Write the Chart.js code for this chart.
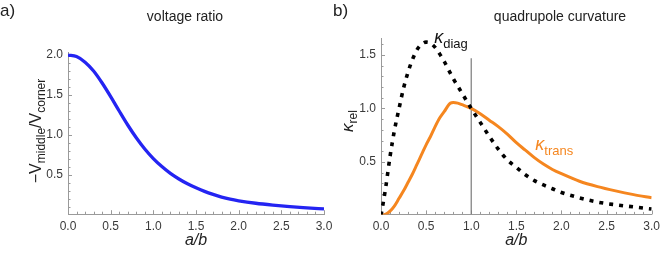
<!DOCTYPE html>
<html><head><meta charset="utf-8">
<script src="https://cdn.jsdelivr.net/npm/chart.js@4"></script>
<style>
html,body{margin:0;padding:0;background:#fff;overflow:hidden}
#wrap{position:relative;width:665px;height:253px}
canvas{position:absolute;left:0;top:0}
</style></head><body>
<div id="wrap"><canvas id="ca" width="665" height="253"></canvas><canvas id="cb" width="665" height="253"></canvas></div>
<script>
// ---- data ----
const xTickValues = [0, 0.5, 1, 1.5, 2, 2.5, 3];
const xTickLabels = ['0.0', '0.5', '1.0', '1.5', '2.0', '2.5', '3.0'];
const yTickValuesA = [0.5, 1.0, 1.5, 2.0];
const yTickLabelsA = ['0.5', '1.0', '1.5', '2.0'];
const yTickValuesB = [0.5, 1.0, 1.5];
const yTickLabelsB = ['0.5', '1.0', '1.5'];

const ratioX = [0,0.1,0.2,0.3,0.4,0.5,0.6,0.7,0.8,0.9,1.0,1.1,1.2,1.3,1.4,1.5,1.6,1.7,1.8,1.9,2.0,2.2,2.4,2.6,2.8,3.0];
const ratioY = [2.0,1.98,1.91,1.80,1.65,1.48,1.30,1.125,0.965,0.825,0.705,0.605,0.52,0.45,0.39,0.34,0.295,0.257,0.224,0.198,0.178,0.147,0.124,0.105,0.09,0.076];

const diagX = [0,0.05,0.1,0.15,0.2,0.25,0.3,0.35,0.4,0.45,0.5,0.55,0.6,0.65,0.7,0.8,0.9,1.0,1.1,1.2,1.3,1.4,1.5,1.6,1.7,1.8,1.9,2.0,2.2,2.4,2.6,2.8,3.0];
const diagY = [0,0.25,0.55,0.80,1.0,1.19,1.34,1.46,1.55,1.60,1.62,1.61,1.57,1.51,1.44,1.28,1.14,1.0,0.87,0.74,0.62,0.52,0.45,0.38,0.325,0.285,0.25,0.215,0.165,0.125,0.10,0.08,0.06];

const transX = [0,0.05,0.1,0.15,0.2,0.25,0.3,0.35,0.4,0.45,0.5,0.55,0.6,0.65,0.7,0.77,0.8,0.85,0.9,1.0,1.1,1.2,1.3,1.4,1.5,1.6,1.7,1.8,1.9,2.0,2.2,2.4,2.6,2.8,3.0];
const transY = [0,0.01,0.04,0.09,0.16,0.23,0.31,0.39,0.48,0.57,0.66,0.74,0.83,0.91,0.97,1.05,1.055,1.05,1.035,1.0,0.95,0.89,0.83,0.76,0.68,0.61,0.54,0.48,0.43,0.39,0.32,0.27,0.23,0.195,0.165];

const markerX = [1, 1];
const markerY = [0.01, 1.47];

// ---- helpers ----
const FAM = "'Liberation Sans', Arial, sans-serif";
const AXIS = '#9a9a9a';
const LBL = '#3a3a3a';
const pts = (xs, ys) => xs.map((x, i) => ({x, y: ys[i]}));

function drawRich(ctx, x, y, segs, rot, align) {
  ctx.save();
  ctx.translate(x, y);
  if (rot) ctx.rotate(rot);
  let w = 0;
  segs.forEach(s => { ctx.font = s.font; w += ctx.measureText(s.text).width; });
  let cx = align === 'left' ? 0 : -w / 2;
  ctx.textBaseline = 'alphabetic';
  ctx.textAlign = 'left';
  segs.forEach(s => {
    ctx.font = s.font;
    ctx.fillStyle = s.color;
    ctx.fillText(s.text, cx, s.dy || 0);
    cx += ctx.measureText(s.text).width;
  });
  ctx.restore();
}

const decor = {
  id: 'decor',
  beforeDatasetsDraw(chart, args, o) {
    const ctx = chart.ctx, xs = chart.scales.x, ys = chart.scales.y;
    const bottom = chart.chartArea.bottom, left = chart.chartArea.left;
    ctx.save();
    ctx.strokeStyle = AXIS; ctx.lineWidth = 1;
    ctx.beginPath();
    for (let i = 1; i <= 30; i++) {
      const px = Math.round(xs.getPixelForValue(i / 10)) + 0.5;
      const len = i % 5 === 0 ? 4 : 2.5;
      ctx.moveTo(px, bottom); ctx.lineTo(px, bottom - len);
    }
    for (let i = 1; i <= o.yMinorMax; i++) {
      const py = Math.round(ys.getPixelForValue(i / 10)) + 0.5;
      const len = i % 5 === 0 ? 4 : 2.5;
      ctx.moveTo(left, py); ctx.lineTo(left + len, py);
    }
    ctx.stroke();
    ctx.restore();
  },
  afterDraw(chart, args, o) {
    const ctx = chart.ctx, xs = chart.scales.x, ys = chart.scales.y;
    const ca = chart.chartArea;
    drawRich(ctx, o.letterX, 16, [{text: o.letter, font: '17px ' + FAM, color: '#222'}], 0, 'left');
    drawRich(ctx, o.titleX, 21, [{text: o.title, font: '14px ' + FAM, color: '#222'}], 0, 'center');
    drawRich(ctx, (ca.left + ca.right) / 2, 245, [{text: 'a/b', font: 'italic 16px ' + FAM, color: '#222'}], 0, 'center');
    drawRich(ctx, o.yTitleX, o.yTitleY, o.yTitle, -Math.PI / 2, 'center');
    (o.notes || []).forEach(n => {
      drawRich(ctx, xs.getPixelForValue(n.x), ys.getPixelForValue(n.y), n.segs, 0, 'left');
    });
  }
};

function axisOpts(min, max, vals, labels, isX, pad, size) {
  return {
    type: 'linear', min, max,
    afterFit: s => { if (isX) s.height = size; else s.width = size; },
    afterBuildTicks: s => { s.ticks = vals.map(v => ({value: v})); },
    grid: {display: false, drawTicks: false, tickLength: 0},
    border: {display: true, color: AXIS, width: 1},
    ticks: {
      padding: pad, color: LBL, font: {family: FAM, size: 12},
      autoSkip: false, maxRotation: 0,
      callback: (v, i) => labels[i]
    }
  };
}

const common = {responsive: false, animation: false, devicePixelRatio: 1, events: []};

new Chart(document.getElementById('ca'), {
  type: 'line',
  data: {datasets: [{
    data: pts(ratioX, ratioY), borderColor: '#2424f2', borderWidth: 3.3,
    pointRadius: 0, fill: false, cubicInterpolationMode: 'monotone'
  }]},
  options: Object.assign({}, common, {
    layout: {padding: {left: 0, right: 341, top: 52.6, bottom: 0}},
    plugins: {
      legend: {display: false}, tooltip: {enabled: false},
      decor: {
        letter: 'a)', letterX: 0, title: 'voltage ratio', titleX: 185, yMinorMax: 20,
        yTitleX: 41, yTitleY: 131,
        yTitle: [
          {text: '\u2212V', font: '16px ' + FAM, color: '#222'},
          {text: 'middle', font: '12px ' + FAM, color: '#222', dy: 4},
          {text: '/V', font: '16px ' + FAM, color: '#222'},
          {text: 'corner', font: '12px ' + FAM, color: '#222', dy: 4}
        ]
      }
    },
    scales: {
      x: axisOpts(0, 3, xTickValues, xTickLabels, true, 5, 38.8),
      y: axisOpts(0.01, 2.03, yTickValuesA, yTickLabelsA, false, 5, 68)
    }
  }),
  plugins: [decor]
});

const ORANGE = '#f5861f';
new Chart(document.getElementById('cb'), {
  type: 'line',
  data: {datasets: [
    {data: pts(diagX, diagY), borderColor: '#000', borderWidth: 3.6, borderDash: [4, 6],
     borderCapStyle: 'butt', pointRadius: 0, fill: false, cubicInterpolationMode: 'monotone'},
    {data: pts(transX, transY), borderColor: ORANGE, borderWidth: 3, pointRadius: 0,
     fill: false, cubicInterpolationMode: 'monotone'},
    {data: pts(markerX, markerY), borderColor: '#7a7a7a', borderWidth: 1.2, pointRadius: 0, fill: false}
  ]},
  options: Object.assign({}, common, {
    layout: {padding: {left: 0, right: 11, top: 38.9, bottom: 0}},
    plugins: {
      legend: {display: false}, tooltip: {enabled: false},
      decor: {
        letter: 'b)', letterX: 333, title: 'quadrupole curvature', titleX: 560, yMinorMax: 16,
        yTitleX: 353, yTitleY: 121,
        yTitle: [
          {text: '\u03BA', font: 'italic 17px ' + FAM, color: '#222'},
          {text: 'rel', font: '12px ' + FAM, color: '#222', dy: 4}
        ],
        notes: [
          {x: 0.59, y: 1.61, segs: [
            {text: '\u03BA', font: 'italic 18px ' + FAM, color: '#111'},
            {text: 'diag', font: '13px ' + FAM, color: '#111', dy: 5}]},
          {x: 1.71, y: 0.61, segs: [
            {text: '\u03BA', font: 'italic 18px ' + FAM, color: ORANGE},
            {text: 'trans', font: '13px ' + FAM, color: ORANGE, dy: 5}]}
        ]
      }
    },
    scales: {
      x: axisOpts(0, 3, xTickValues, xTickLabels, true, 5, 38.6),
      y: axisOpts(0.01, 1.65, yTickValuesB, yTickLabelsB, false, 5, 381)
    }
  }),
  plugins: [decor]
});
</script>
</body></html>
